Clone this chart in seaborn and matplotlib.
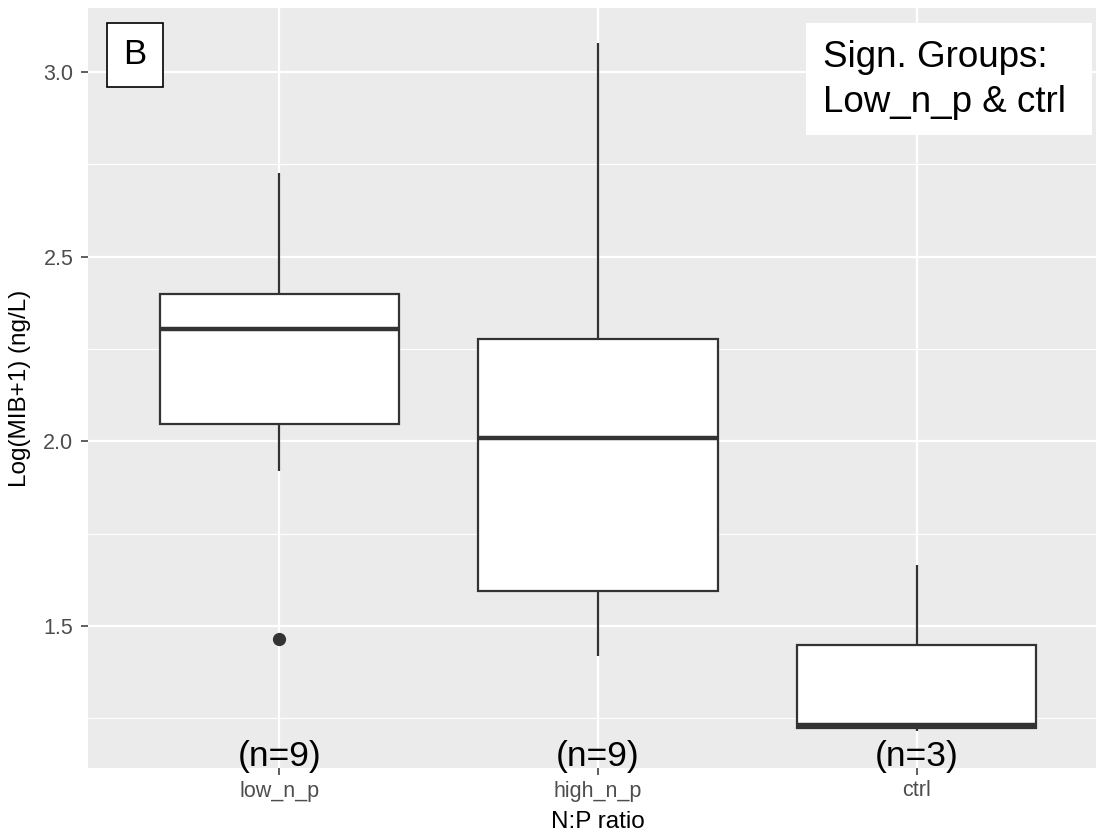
import numpy as np
import pandas as pd
import matplotlib
matplotlib.use("Agg")
import matplotlib.pyplot as plt
from matplotlib.patches import Rectangle
from matplotlib.ticker import MultipleLocator
import seaborn as sns

# ---- data ----
categories = ["low_n_p", "high_n_p", "ctrl"]
low_n_p = [1.465, 1.92, 2.046, 2.20, 2.305, 2.35, 2.40, 2.55, 2.727]
high_n_p = [1.419, 1.50, 1.595, 1.80, 2.008, 2.15, 2.278, 2.60, 3.078]
ctrl = [1.215, 1.232, 1.665]
n_labels = ["(n=9)", "(n=9)", "(n=3)"]
y_ticks = [1.5, 2.0, 2.5, 3.0]

df = pd.DataFrame({
    "ratio": ["low_n_p"] * len(low_n_p) + ["high_n_p"] * len(high_n_p) + ["ctrl"] * len(ctrl),
    "value": low_n_p + high_n_p + ctrl,
})

sns.set_theme(style="white")
plt.rcParams["font.family"] = ["Liberation Sans", "DejaVu Sans"]

W, H = 1096, 839
fig = plt.figure(figsize=(W / 100, H / 100), dpi=100)
# panel: x 88..1108 px (cropped at right), y 8..768 px
ax = fig.add_axes([88 / W, (H - 768) / H, (1108 - 88) / W, (768 - 8) / H])
ax.set_facecolor("#EBEBEB")

sns.boxplot(
    data=df, x="ratio", y="value", order=categories, ax=ax,
    width=0.75, color="white", saturation=1, linecolor="#333333", linewidth=1.6,
    whis=1.5, showcaps=False,
    flierprops=dict(marker="o", markerfacecolor="#333333", markeredgecolor="#333333", markersize=8.5),
    medianprops=dict(linewidth=3.2, color="#333333"),
    zorder=3,
)

ax.set_xlim(-0.6, 2.6)
ax.set_ylim(1.116, 3.173)
ax.yaxis.set_major_locator(MultipleLocator(0.5))
ax.yaxis.set_minor_locator(MultipleLocator(0.25))
ax.set_yticks(y_ticks)
ax.set_yticklabels([f"{v:.1f}" for v in y_ticks])

ax.grid(which="major", color="white", linewidth=1.6, zorder=0)
ax.grid(which="minor", axis="y", color="white", linewidth=0.8, zorder=0)
ax.set_axisbelow(True)
for s in ax.spines.values():
    s.set_visible(False)

ax.tick_params(axis="both", which="major", length=5, width=1.1, color="#333333",
               labelcolor="#4D4D4D", labelsize=15.5, pad=3)
ax.tick_params(axis="y", which="minor", length=0)
ax.tick_params(axis="y", pad=5.5)
ax.tick_params(axis="x", labelsize=15.5, pad=4)
ax.tick_params(left=True, bottom=True)

ax.set_xlabel("N:P ratio", fontsize=17.5, color="black")
ax.set_ylabel("Log(MIB+1) (ng/L)", fontsize=17.5, color="black")
ax.xaxis.set_label_coords(0.5, -(822 - 768) / 760)
ax.xaxis.label.set_va("center")
ax.yaxis.set_label_coords(-(88 - 20) / 1020, 0.5)
ax.yaxis.label.set_va("center")

# n annotations overlapping the panel bottom
for i, lab in enumerate(n_labels):
    ax.text(i, 1.146, lab, ha="center", va="center", fontsize=25.5, color="black",
            clip_on=False, zorder=5)

# "B" panel tag
fig.patches.append(Rectangle((107 / W, 1 - 87 / H), 56 / W, 64 / H, transform=fig.transFigure,
                             facecolor="white", edgecolor="black", linewidth=1.2, zorder=6))
fig.text(135 / W, 1 - 55 / H, "B", ha="center", va="center", fontsize=25, color="black", zorder=7)

# significance box
fig.patches.append(Rectangle((806 / W, 1 - 135 / H), (1092 - 806) / W, (135 - 23) / H,
                             transform=fig.transFigure, facecolor="white", edgecolor="none", zorder=6))
fig.text(823 / W, 1 - 80 / H, "Sign. Groups:\nLow_n_p & ctrl", ha="left", va="center",
         fontsize=26.5, color="black", linespacing=1.4, zorder=7)

fig.savefig("out.png", dpi=100)
